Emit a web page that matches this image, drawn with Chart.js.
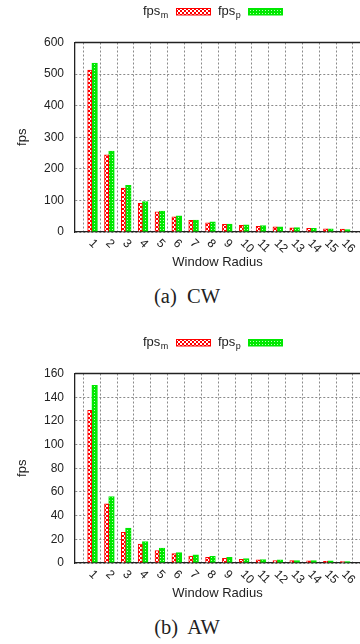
<!DOCTYPE html>
<html><head><meta charset="utf-8">
<script src="https://cdn.jsdelivr.net/npm/chart.js@4"></script>
<style>
html,body{margin:0;padding:0;background:#fff;width:360px;height:644px;overflow:hidden;position:relative}
canvas{position:absolute;left:0}
.cap{position:absolute;width:360px;left:7px;text-align:center;font-family:"Liberation Serif",serif;font-size:20.5px;line-height:24px;color:#222}
</style></head><body>
<canvas id="c1" width="360" height="280" style="top:0"></canvas>
<canvas id="c2" width="360" height="280" style="top:331px"></canvas>
<div class="cap" style="top:284px">(a)&nbsp; CW</div>
<div class="cap" style="top:615px">(b)&nbsp; AW</div>
<script>
const windowRadius = [1,2,3,4,5,6,7,8,9,10,11,12,13,14,15,16];
const cwFpsM = [513,244,139,91,64,48,37,29,24,21,18,16,13,12,10,9];
const cwFpsP = [535,256,148,96,66,51,38,32,25,23,20,16,14,12,10,8];
const awFpsM = [129,50,26,16,10.5,8,5.8,4.8,4,3.2,2.7,2.1,2,1.9,1.5,1.2];
const awFpsP = [150,56,29.5,18,12.5,8.8,6.8,5.6,4.8,3.8,2.8,2.6,2.1,2,1.9,1.2];
const cwYTicks = [0,100,200,300,400,500,600];
const awYTicks = [0,20,40,60,80,100,120,140,160];
const seriesNames = [['fps','m'],['fps','p']];
const xTitle = 'Window Radius';
const yTitle = 'fps';

const RED = '#ff0000', GREEN = '#00e800';
function makePattern(kind){
  const c = document.createElement('canvas');
  const x = c.getContext('2d');
  if (kind === 'red') {
    c.width = 4; c.height = 4;
    x.fillStyle = RED; x.fillRect(0,0,4,4);
    x.fillStyle = '#ffffff'; x.fillRect(0,0,2,2); x.fillRect(2,2,2,2);
  } else {
    c.width = 3; c.height = 3;
    x.fillStyle = GREEN; x.fillRect(0,0,3,3);
    x.fillStyle = '#b8ffb8'; x.fillRect(1,1,1,1);
  }
  return x.createPattern(c,'repeat');
}
const redPat = makePattern('red'), greenPat = makePattern('green');
const FONT = '"Liberation Sans", Arial, sans-serif';

const framePlugin = {
  id:'frame',
  afterDraw(chart){
    const ctx = chart.ctx, a = chart.chartArea;
    ctx.save();
    // top frame line
    ctx.strokeStyle = '#222'; ctx.lineWidth = 1.3;
    ctx.beginPath(); ctx.moveTo(a.left, a.top); ctx.lineTo(a.right, a.top); ctx.stroke();
    // rotated x tick labels
    const xs = chart.scales.x;
    ctx.font = '12px ' + FONT; ctx.fillStyle = '#222';
    ctx.textAlign = 'left'; ctx.textBaseline = 'middle';
    windowRadius.forEach(r => {
      const px = xs.getPixelForValue(r);
      ctx.save(); ctx.translate(px - 1, a.bottom + 9.5); ctx.rotate(Math.PI/4);
      ctx.fillText(String(r), 0, 0); ctx.restore();
    });
    // legend: text then sample
    const items = [
      {name: seriesNames[0], tx: 143, bx: 176, pat: redPat, col: RED},
      {name: seriesNames[1], tx: 218, bx: 248, pat: greenPat, col: GREEN}
    ];
    const by = 15;
    items.forEach(it => {
      ctx.textAlign = 'left'; ctx.textBaseline = 'alphabetic';
      ctx.font = '13px ' + FONT;
      ctx.fillText(it.name[0], it.tx, by);
      const w = ctx.measureText(it.name[0]).width;
      ctx.font = '9px ' + FONT;
      ctx.fillText(it.name[1], it.tx + w + 0.5, by + 3);
      ctx.fillStyle = it.pat; ctx.fillRect(it.bx, 8.5, 35, 6.5);
      ctx.strokeStyle = it.col; ctx.lineWidth = 1;
      ctx.strokeRect(it.bx + 0.5, 8.5, 34, 6.5);
      ctx.fillStyle = '#222';
    });
    ctx.restore();
  }
};

function makeChart(id, m, p, yTicks){
  return new Chart(document.getElementById(id), {
    type:'bar',
    data:{
      labels: windowRadius,
      datasets:[
        {label:'fps_m', data:m, backgroundColor:redPat, borderColor:RED, borderWidth:1, borderSkipped:'bottom', barThickness:4.2},
        {label:'fps_p', data:p, backgroundColor:greenPat, borderColor:GREEN, borderWidth:1, borderSkipped:'bottom', barThickness:5.6}
      ]
    },
    options:{
      responsive:false, animation:false, devicePixelRatio:1,
      layout:{padding:{top:42.5,left:0,right:0,bottom:0}},
      plugins:{legend:{display:false}, tooltip:{enabled:false}},
      scales:{
        x:{
          type:'linear', offset:false, min:0, max:16.92,
          ticks:{display:false, stepSize:1, includeBounds:false},
          grid:{color:'#8a8a8a', lineWidth:1, drawTicks:false},
          border:{display:true, color:'#222', width:1.3, dash:[2,2]},
          title:{display:true, text:xTitle, color:'#222', font:{family:FONT, size:13}, padding:{top:0,bottom:10}},
          afterFit(s){ s.height = 48; }
        },
        y:{
          min:yTicks[0], max:yTicks[yTicks.length-1],
          afterBuildTicks(s){ s.ticks = yTicks.map(v => ({value:v})); },
          ticks:{color:'#222', font:{family:FONT, size:12}, padding:11},
          grid:{color:'#8a8a8a', lineWidth:1, drawTicks:false},
          border:{display:true, color:'#222', width:1.3, dash:[2,2]},
          title:{display:true, text:yTitle, color:'#222', font:{family:FONT, size:13}, padding:{top:14.7,bottom:0}},
          afterFit(s){ s.width = 75; }
        }
      }
    },
    plugins:[framePlugin]
  });
}
makeChart('c1', cwFpsM, cwFpsP, cwYTicks);
makeChart('c2', awFpsM, awFpsP, awYTicks);
</script>
</body></html>
